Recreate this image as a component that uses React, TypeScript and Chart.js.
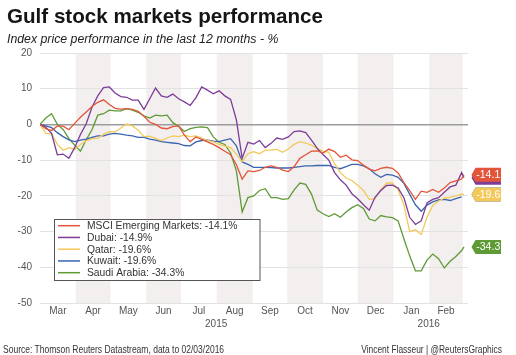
import React, { useEffect, useRef } from "react";
import { Chart, registerables } from "chart.js";

Chart.register(...registerables);

// sample days, counted from 1 March 2015
const days = [0, 5, 10, 15, 20, 25, 30, 35, 40, 45, 50, 55, 60, 65, 70, 75, 80, 85, 90, 95, 100, 105, 110, 115, 120, 125, 130, 135, 140, 145, 150, 155, 160, 165, 170, 175, 180, 185, 190, 195, 200, 205, 210, 215, 220, 225, 230, 235, 240, 245, 250, 255, 260, 265, 270, 275, 280, 285, 290, 295, 300, 305, 310, 315, 320, 325, 330, 335, 340, 345, 350, 355, 360, 365, 367];

const msci = [0, -1.2, -1.7, -0.5, -0.5, -1.5, 0.3, 2, 3.5, 5,
  6.2, 6.9, 5.6, 4.5, 4.3, 4.4, 4.2, 3.7, 2.3, 0.6,
  0, -1, -1.2, -0.6, -0.4, -3, -4.8, -3.5, -4.2, -4.9,
  -5.6, -6.5, -7.5, -8.5, -11.3, -15.3, -13, -13.2, -12.9, -12,
  -11.6, -12, -12.8, -13.2, -11.8, -9.5, -8.5, -7.5, -7.4, -8,
  -6.9, -7.6, -9.2, -8.6, -9.9, -10.1, -11.4, -12.5, -13, -12.3,
  -12, -12.3, -13.6, -16.3, -18.5, -21, -18.7, -19, -18.2, -19,
  -17.8, -16.3, -15.8, -15.3, -14.1];

const dubai = [0, -0.8, -2.5, -8.5, -8.3, -9.5, -6.5, -2.8, 0.2, 4.8,
  8, 10.3, 10.5, 8.8, 7.8, 7.6, 6.8, 6.8, 4.2, 7.2,
  10.2, 8, 7.6, 8.5, 7.2, 6.3, 5.3, 7.5, 10.5, 9.6,
  8.6, 9.4, 8, 7, 1.3, -9.5, -5, -5.5, -4.5, -6.5,
  -5.3, -3.8, -4.2, -3.5, -2, -1.8, -2.3, -4.4, -6.7, -8.4,
  -10, -13.5, -15.5, -17, -19.4, -20.8, -22.5, -24, -20.4, -18.5,
  -17.1, -17, -17.8, -20.5, -26, -28, -27, -22, -21, -20.5,
  -19, -17.5, -17, -13.5, -14.9];

const qatar = [0, -2.5, -2.6, -5.6, -7.2, -6.5, -7, -5.6, -4.6, -4,
  -3.9, -2.8, -2, -2.1, -1, 0.1, -0.4, -1.6, -3.4, -3.3,
  -3.9, -4.5, -3.8, -3.2, -3.4, -3, -3.4, -3.2, -3.8, -4.5,
  -4.9, -5.6, -6.1, -6.5, -8.3, -10.4, -8.2, -7.6, -8.2, -7.2,
  -7.2, -7, -7.8, -6.8, -5.6, -4.8, -5.2, -5.8, -6.8, -7.5,
  -7.8, -11, -13.5, -15, -15.7, -17, -18.5, -21, -20.8, -18.3,
  -16.4, -16.4, -18.3, -22.5, -30, -29.5, -30.8, -26, -22.7, -21.5,
  -20.6, -20.4, -20, -19.5, -19.6];

const kuwait = [0, -0.4, -0.9, -2.3, -3.4, -4.3, -4.8, -4.4, -4.1, -3.6,
  -3.2, -3.2, -2.7, -2.5, -2.7, -3, -3.2, -3.6, -3.6, -4.1,
  -4.4, -4.8, -5, -5.2, -5.4, -5.9, -6, -4.9, -4.5, -4.4,
  -4.7, -4.8, -4.4, -4, -6, -10.5, -11.2, -12, -12, -12,
  -12.1, -12.2, -12.2, -12.2, -12, -11.8, -11.6, -11.6, -11.5, -11.5,
  -11.5, -12, -12.4, -11.8, -11.2, -11.2, -11.6, -12.4, -13.8, -14.8,
  -14, -14.2, -14.8, -16.5, -19.5, -22.5, -24.3, -22.6, -21.7, -21.1,
  -21, -21.3, -20.8, -20.3, null];

const saudi = [0, 1.8, 3, 0, -1.4, -4, -5.8, -7.5, -4.3, -1.5,
  2.6, 3, 4, 3.8, 3.8, 4.4, 4, 3.4, 2.4, 1.8,
  2.6, 2.4, 2.6, 0.5, -0.5, -2, -1.2, -0.8, -0.7, -0.9,
  -3.5, -5, -5.6, -8, -13, -24.5, -20.5, -20, -18.5, -18,
  -20.5, -20.5, -21, -20.8, -18.3, -16.4, -16.8, -19.5, -24, -25,
  -25.8, -25, -26, -24.5, -23.3, -22.5, -23.5, -26.5, -27, -25.5,
  -25.9, -26.1, -27, -32, -36.8, -41, -41, -38, -36.3, -37.6,
  -40.2, -38.3, -37, -35.3, -34.3];

const seriesNames = ["MSCI Emerging Markets", "Dubai", "Qatar", "Kuwait", "Saudi Arabia"];
const endValues = [-14.1, -14.9, -19.6, -19.6, -34.3];
const monthLabels = ["Mar", "Apr", "May", "Jun", "Jul", "Aug", "Sep", "Oct", "Nov", "Dec", "Jan", "Feb"];
const monthStarts = [0, 31, 61, 92, 122, 153, 184, 214, 245, 275, 306, 337, 366];
const yearLabels = ["2015", "2016"];
const yearCentres = [152.5, 336.5];

const COLORS = ["#E2553A", "#7D3C98", "#F3C95A", "#3A64B0", "#5E9A35"];
const SERIES = [msci, dubai, qatar, kuwait, saudi];
const FONT = "'Liberation Sans', Arial, sans-serif";

const bandsPlugin = {
  id: "bands",
  beforeDraw(chart: any) {
    const { ctx, chartArea: a, scales } = chart;
    const x = scales.x;
    ctx.save();
    ctx.fillStyle = "#F3EFEE";
    for (let i = 1; i < monthStarts.length - 1; i += 2) {
      const x0 = x.getPixelForValue(monthStarts[i]);
      const x1 = Math.min(x.getPixelForValue(monthStarts[i + 1]), a.right);
      ctx.fillRect(x0, a.top, x1 - x0, a.bottom - a.top);
    }
    ctx.restore();
  },
};

const overlayPlugin = {
  id: "overlay",
  afterDraw(chart: any) {
    const { ctx, chartArea: a, scales } = chart;
    const x = scales.x;
    const y = scales.y;
    ctx.save();
    // year labels
    ctx.fillStyle = "#555";
    ctx.font = `10px ${FONT}`;
    ctx.textAlign = "center";
    ctx.textBaseline = "middle";
    yearLabels.forEach((t, i) => {
      ctx.fillText(t, x.getPixelForValue(yearCentres[i]), 324);
    });

    // end tags
    const order = [3, 4, 2, 1, 0];
    for (const i of order) {
      const v = endValues[i];
      const yc = y.getPixelForValue(v);
      const xl = a.right + 3.5;
      const xn = xl + 4;
      const xr = a.right + 33;
      const h = 14;
      ctx.beginPath();
      ctx.moveTo(xl, yc);
      ctx.lineTo(xn, yc - h / 2);
      ctx.lineTo(xr, yc - h / 2);
      ctx.lineTo(xr, yc + h / 2);
      ctx.lineTo(xn, yc + h / 2);
      ctx.closePath();
      ctx.fillStyle = COLORS[i];
      ctx.fill();
      ctx.fillStyle = "#fff";
      ctx.font = `10.5px ${FONT}`;
      ctx.textAlign = "center";
      ctx.textBaseline = "middle";
      ctx.fillText(v.toFixed(1), (xn + xr) / 2, yc + 0.5);
    }

    // legend box
    ctx.fillStyle = "#fff";
    ctx.fillRect(54.5, 219.5, 205.5, 61);
    ctx.strokeStyle = "#555";
    ctx.lineWidth = 1;
    ctx.strokeRect(54.5, 219.5, 205.5, 61);
    seriesNames.forEach((name, i) => {
      const yy = 225.7 + i * 11.75;
      ctx.strokeStyle = COLORS[i];
      ctx.lineWidth = 1.5;
      ctx.beginPath();
      ctx.moveTo(58, yy);
      ctx.lineTo(80, yy);
      ctx.stroke();
      ctx.fillStyle = "#333";
      ctx.font = `10.3px ${FONT}`;
      ctx.textAlign = "left";
      ctx.textBaseline = "middle";
      ctx.fillText(`${name}: ${endValues[i].toFixed(1)}%`, 87, yy + 0.5);
    });
    ctx.restore();
  },
};

export default function App() {
  const ref = useRef<HTMLCanvasElement | null>(null);

  useEffect(() => {
    if (!ref.current) return;
    const chart = new Chart(ref.current, {
      type: "line",
      data: {
        datasets: SERIES.map((s, i) => ({
          label: seriesNames[i],
          data: days.map((d, j) => ({ x: d, y: s[j] })),
          borderColor: COLORS[i],
          backgroundColor: COLORS[i],
          borderWidth: 1.3,
          pointRadius: 0,
          tension: 0,
          spanGaps: false,
        })),
      },
      options: {
        responsive: false,
        animation: false,
        layout: { padding: { top: 53, right: 48, left: 0, bottom: 0 } },
        plugins: {
          legend: { display: false },
          tooltip: { enabled: false },
          title: { display: false },
        },
        scales: {
          x: {
            type: "linear",
            min: 0,
            max: 370.5,
            grid: { display: false, drawTicks: false, tickLength: 0 },
            border: { display: false },
            afterBuildTicks: (scale: any) => {
              scale.ticks = monthLabels.map((_, i) => ({
                value: (monthStarts[i] + monthStarts[i + 1]) / 2,
              }));
            },
            afterFit: (scale: any) => {
              scale.height = 52;
            },
            ticks: {
              autoSkip: false,
              maxRotation: 0,
              padding: 2,
              color: "#555",
              font: { size: 10, family: FONT },
              callback: (_v: any, i: number) => monthLabels[i],
            },
          },
          y: {
            min: -50,
            max: 20,
            afterFit: (scale: any) => {
              scale.width = 40;
            },
            ticks: {
              stepSize: 10,
              padding: 8,
              color: "#555",
              font: { size: 10, family: FONT },
            },
            border: { display: false },
            grid: {
              drawTicks: false,
              color: (c: any) => (c.tick && c.tick.value === 0 ? "#9C9C9C" : "#E2E2E2"),
              lineWidth: (c: any) => (c.tick && c.tick.value === 0 ? 1.5 : 1),
            },
          },
        },
      },
      plugins: [bandsPlugin, overlayPlugin],
    } as any);
    return () => chart.destroy();
  }, []);

  return (
    <div style={{ position: "absolute", left: 0, top: 0, width: 516, height: 355, background: "#fff", overflow: "hidden" }}>
      <canvas ref={ref} width={516} height={355} style={{ position: "absolute", left: 0, top: 0, width: 516, height: 355, display: "block" }} />
      <div style={{ position: "absolute", left: 7, top: 3.5, font: `bold 20.6px ${FONT}`, lineHeight: "24px", color: "#151515", whiteSpace: "nowrap" }}>
        Gulf stock markets performance
      </div>
      <div style={{ position: "absolute", left: 7, top: 31.5, font: `italic 12.3px ${FONT}`, lineHeight: "14px", color: "#222", whiteSpace: "nowrap" }}>
        Index price performance in the last 12 months - %
      </div>
      <div style={{ position: "absolute", left: 3, top: 342.5, font: `10.5px ${FONT}`, lineHeight: "12px", color: "#333", whiteSpace: "nowrap", transform: "scaleX(0.81)", transformOrigin: "left center" }}>
        Source: Thomson Reuters Datastream, data to 02/03/2016
      </div>
      <div style={{ position: "absolute", right: 14, top: 342.5, font: `10.5px ${FONT}`, lineHeight: "12px", color: "#333", whiteSpace: "nowrap", transform: "scaleX(0.8)", transformOrigin: "right center" }}>
        Vincent Flasseur | @ReutersGraphics
      </div>
    </div>
  );
}
